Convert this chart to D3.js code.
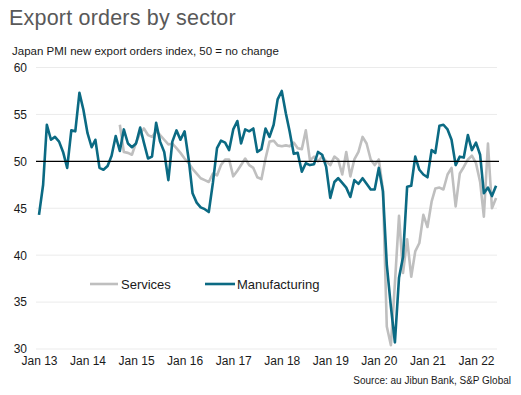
<!DOCTYPE html>
<html>
<head>
<meta charset="utf-8">
<script src="https://cdn.jsdelivr.net/npm/d3@7"></script>
<style>
  html, body { margin: 0; padding: 0; background: #fff; }
  svg { display: block; font-family: Arial, "Liberation Sans", sans-serif; }
</style>
</head>
<body>
<svg id="chart" width="521" height="395"></svg>
<script>
// ---- Data ----
const title = "Export orders by sector";
const subtitle = "Japan PMI new export orders index, 50 = no change";
const source = "Source: au Jibun Bank, S&P Global";

const manufacturingStart = "2013-01";
const manufacturing = [
  44.3, 47.5, 53.9, 52.3, 52.6, 52.1, 51.0, 49.3, 53.3, 53.2, 57.3, 55.5, // 2013
  53.0, 51.5, 52.3, 49.3, 49.1, 49.5, 50.6, 52.7, 51.1, 53.4, 51.9, 51.5, // 2014
  51.9, 53.6, 52.0, 50.3, 50.5, 54.1, 52.1, 51.0, 48.0, 52.1, 53.3, 52.3, // 2015
  53.2, 50.2, 46.6, 45.6, 45.1, 44.9, 44.6, 47.7, 51.4, 52.2, 52.0, 51.2, // 2016
  53.4, 54.3, 51.9, 53.4, 53.2, 53.5, 51.0, 51.3, 53.5, 52.6, 53.9, 56.6, // 2017
  57.5, 55.1, 53.2, 50.8, 50.9, 48.9, 49.8, 49.6, 49.7, 51.0, 50.7, 49.4, // 2018
  46.1, 47.8, 48.2, 47.7, 47.2, 46.2, 48.0, 47.6, 48.2, 47.6, 47.0, 47.0, // 2019
  49.3, 46.8, 39.0, 34.5, 30.7, 37.6, 39.8, 47.3, 47.4, 50.5, 49.1, 48.6, // 2020
  48.3, 51.2, 50.9, 53.8, 53.9, 53.4, 52.3, 49.6, 50.5, 50.4, 52.8, 51.2, // 2021
  52.0, 50.7, 46.6, 47.2, 46.3, 47.4                                      // 2022
];

const servicesStart = "2014-09";
const services = [
  53.9, 51.0, 50.9, 50.7,                                                 // 2014 Sep-Dec
  52.0, 53.0, 53.5, 52.8, 52.6, 53.2, 52.8, 52.3, 51.8, 51.9, 51.4, 50.9, // 2015
  50.3, 49.8, 49.2, 48.7, 48.2, 48.0, 47.8, 48.7, 48.5, 49.6, 50.2, 50.2, // 2016
  48.4, 49.0, 49.6, 50.3, 49.6, 49.3, 48.3, 48.1, 50.3, 52.1, 52.2, 51.7, // 2017
  51.6, 51.7, 51.6, 52.0, 51.4, 51.3, 53.3, 50.1, 50.5, 50.0, 50.5, 50.0, // 2018
  49.6, 50.5, 50.2, 48.6, 51.0, 48.4, 50.2, 51.0, 52.6, 51.9, 50.2, 49.6, // 2019
  50.2, 47.0, 32.4, 30.4, 37.0, 44.2, 38.1, 41.7, 37.7, 40.4, 41.3, 44.3, // 2020
  43.0, 45.7, 47.1, 47.2, 47.0, 48.6, 49.3, 45.2, 48.7, 49.4, 50.2, 50.6, // 2021
  49.8, 47.8, 44.1, 51.9, 45.0, 46.1                                      // 2022
];

const yTicks = [30, 35, 40, 45, 50, 55, 60];
const xTickYears = [2013, 2014, 2015, 2016, 2017, 2018, 2019, 2020, 2021, 2022];
const seriesNames = ["Services", "Manufacturing"];
const seriesColors = ["#bfbfbf", "#0b6a83"];

// ---- Build dated series ----
const parseMonth = d3.timeParse("%Y-%m");
function toSeries(start, values) {
  const s = parseMonth(start);
  return values.map((v, i) => ({ date: d3.timeMonth.offset(s, i), value: v }));
}
const mfg = toSeries(manufacturingStart, manufacturing);
const svc = toSeries(servicesStart, services);

// ---- Layout ----
const svg = d3.select("#chart");
const plotLeft = 36, plotRight = 497;
const x = d3.scaleTime()
  .domain([new Date(2013, 0, 1), new Date(2022, 0, 1)])
  .range([39, 476]);
const y = d3.scaleLinear().domain([30, 60]).range([349, 67.5]);

// Title + subtitle
svg.append("text").attr("x", 9).attr("y", 25)
  .attr("font-size", 21.5).attr("fill", "#595959").attr("letter-spacing", 0.2)
  .text(title);
svg.append("text").attr("x", 12).attr("y", 55)
  .attr("font-size", 11.5).attr("fill", "#1a1a1a")
  .text(subtitle);

// Gridlines
const grid = svg.append("g");
grid.selectAll("line").data(yTicks.filter(t => t !== 50)).join("line")
  .attr("x1", plotLeft).attr("x2", plotRight)
  .attr("y1", d => y(d)).attr("y2", d => y(d))
  .attr("stroke", "#ebebeb").attr("stroke-width", 1);

// Y axis labels via d3 axis
const yAxis = svg.append("g").attr("transform", "translate(27,0)")
  .call(d3.axisLeft(y).tickValues(yTicks).tickSize(0).tickPadding(0).tickFormat(d3.format("d")));
yAxis.select(".domain").remove();
yAxis.selectAll("text").attr("font-size", 12).attr("fill", "#1a1a1a")
  .attr("font-family", "Arial, 'Liberation Sans', sans-serif");

// X axis labels via d3 axis
const xAxis = svg.append("g").attr("transform", "translate(0,356)")
  .call(d3.axisBottom(x)
    .tickValues(xTickYears.map(yr => new Date(yr, 0, 1)))
    .tickSize(0).tickPadding(0)
    .tickFormat(d3.timeFormat("%b %y")));
xAxis.select(".domain").remove();
xAxis.selectAll("text").attr("font-size", 12).attr("fill", "#1a1a1a")
  .attr("font-family", "Arial, 'Liberation Sans', sans-serif");

// Lines
const line = d3.line().x(d => x(d.date)).y(d => y(d.value));
svg.append("path").datum(svc)
  .attr("fill", "none").attr("stroke", seriesColors[0]).attr("stroke-width", 2.6)
  .attr("stroke-linejoin", "round").attr("d", line);
svg.append("path").datum(mfg)
  .attr("fill", "none").attr("stroke", seriesColors[1]).attr("stroke-width", 2.6)
  .attr("stroke-linejoin", "round").attr("d", line);

// 50 reference line
svg.append("line")
  .attr("x1", plotLeft).attr("x2", 499)
  .attr("y1", y(50)).attr("y2", y(50))
  .attr("stroke", "#000").attr("stroke-width", 1.1);

// Legend
const legendItems = [
  { name: seriesNames[0], color: seriesColors[0], x1: 90, x2: 118, tx: 121 },
  { name: seriesNames[1], color: seriesColors[1], x1: 205, x2: 235, tx: 237 }
];
const lg = svg.append("g");
legendItems.forEach(it => {
  lg.append("line").attr("x1", it.x1).attr("x2", it.x2).attr("y1", 284).attr("y2", 284)
    .attr("stroke", it.color).attr("stroke-width", 2.6);
  lg.append("text").attr("x", it.tx).attr("y", 289)
    .attr("font-size", 13).attr("fill", "#1a1a1a").text(it.name);
});

// Source
svg.append("text").attr("x", 511).attr("y", 384)
  .attr("text-anchor", "end").attr("font-size", 10).attr("fill", "#1a1a1a")
  .text(source);
</script>
</body>
</html>
